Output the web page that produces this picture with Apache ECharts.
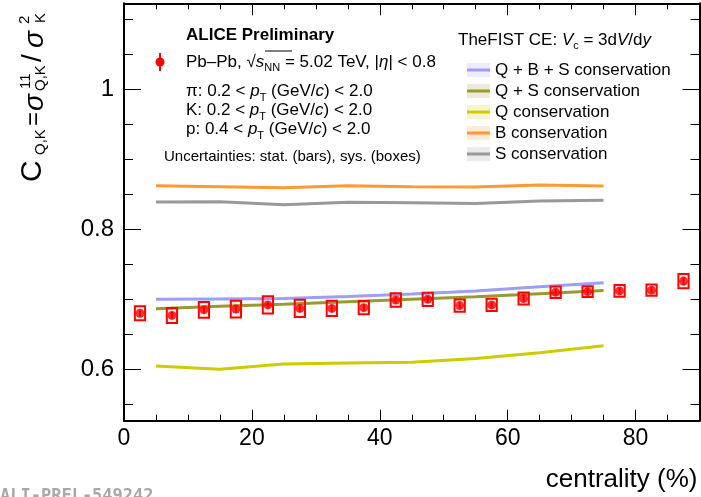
<!DOCTYPE html>
<html>
<head>
<meta charset="utf-8">
<script src="https://cdn.jsdelivr.net/npm/echarts@6/dist/echarts.min.js"></script>
<style>
  html, body { margin: 0; padding: 0; background: #fff; }
  #chart { width: 701px; height: 497px; }
</style>
</head>
<body>
<div id="chart"></div>
<script>
// ---- ALICE Preliminary data: C_{Q,K} vs centrality ----
const centrality = [2.5, 7.5, 12.5, 17.5, 22.5, 27.5, 32.5, 37.5, 42.5, 47.5, 52.5, 57.5, 62.5, 67.5, 72.5, 77.5, 82.5, 87.5];
const ckValues   = [0.680, 0.677, 0.685, 0.686, 0.692, 0.687, 0.687, 0.688, 0.699, 0.700, 0.691, 0.692, 0.701, 0.710, 0.711, 0.712, 0.713, 0.726];
const statErr    = [0.005, 0.005, 0.005, 0.005, 0.005, 0.005, 0.005, 0.005, 0.005, 0.005, 0.005, 0.005, 0.005, 0.005, 0.005, 0.005, 0.005, 0.006];
const sysErr     = [0.0100, 0.0107, 0.0112, 0.0119, 0.0124, 0.0124, 0.0110, 0.0095, 0.0095, 0.0095, 0.0088, 0.0086, 0.0086, 0.0083, 0.0076, 0.0083, 0.0081, 0.0102];

// ---- Thermal-FIST canonical ensemble, V_c = 3 dV/dy ----
const modelCentrality = [5, 15, 25, 35, 45, 55, 65, 75];
const qbsCons = [0.7000, 0.7005, 0.7010, 0.7040, 0.7075, 0.7120, 0.7180, 0.7235];
const qsCons  = [0.6866, 0.6900, 0.6930, 0.6965, 0.7000, 0.7035, 0.7080, 0.7125];
const qCons   = [0.6045, 0.6000, 0.6075, 0.6090, 0.6100, 0.6155, 0.6235, 0.6335];
const bCons   = [0.8623, 0.8610, 0.8595, 0.8623, 0.8610, 0.8605, 0.8635, 0.8620];
const sCons   = [0.8390, 0.8394, 0.8352, 0.8386, 0.8378, 0.8370, 0.8404, 0.8414];

const modelNames = ['Q + B + S conservation', 'Q + S conservation', 'Q conservation', 'B conservation', 'S conservation'];
const modelColors = ['#9e9ef5', '#999933', '#cccc00', '#ff9933', '#999999'];
const modelValues = [qbsCons, qsCons, qCons, bCons, sCons];

// ---- axis ticks ----
const xMajorTicks = [0, 20, 40, 60, 80];
const xMinorTicks = [5, 10, 15, 25, 30, 35, 45, 50, 55, 65, 70, 75, 85];
const yMajorTicks = [0.6, 0.8, 1.0];
const yMinorTicks = [0.55, 0.65, 0.7, 0.75, 0.85, 0.9, 0.95, 1.05, 1.1];

const X_MIN = 0, X_MAX = 90, Y_MIN = 0.5265, Y_MAX = 1.123;
const FONT = '"Liberation Sans", Arial, Helvetica, sans-serif';
const BOX_HALF = 0.8;

const chart = echarts.init(document.getElementById('chart'), null, { renderer: 'canvas' });

function xAxisDef(position, ticks, len, withLine, withLabel) {
  return {
    type: 'value', position: position, min: X_MIN, max: X_MAX,
    splitLine: { show: false },
    axisLine: { show: withLine, onZero: false, lineStyle: { color: '#000', width: 2 } },
    axisTick: { show: true, inside: true, length: len, customValues: ticks, lineStyle: { color: '#000', width: 1 } },
    axisLabel: withLabel ? { show: true, customValues: ticks, fontSize: 23, fontFamily: FONT, color: '#000', margin: 6 } : { show: false }
  };
}
function yAxisDef(position, ticks, len, withLine, withLabel) {
  return {
    type: 'value', position: position, min: Y_MIN, max: Y_MAX,
    splitLine: { show: false },
    axisLine: { show: withLine, onZero: false, lineStyle: { color: '#000', width: 2 } },
    axisTick: { show: true, inside: true, length: len, customValues: ticks, lineStyle: { color: '#000', width: 1 } },
    axisLabel: withLabel ? { show: true, customValues: ticks, fontSize: 24, fontFamily: FONT, color: '#000', margin: 10,
      formatter: v => (Math.abs(v - 1) < 1e-9 ? '1' : String(+v.toFixed(2))) } : { show: false }
  };
}

const xAxes = [
  Object.assign(xAxisDef('bottom', xMajorTicks, 11, true, true), {
    name: 'centrality (%)', nameLocation: 'end', nameGap: -2,
    nameTextStyle: { fontSize: 26, fontFamily: FONT, color: '#000', align: 'right', verticalAlign: 'top', padding: [46, 0, 0, 0] }
  }),
  xAxisDef('bottom', xMinorTicks, 6, false, false),
  xAxisDef('top', xMajorTicks, 12, true, false),
  xAxisDef('top', xMinorTicks, 6, false, false)
];
const yAxes = [
  yAxisDef('left', yMajorTicks, 17, true, true),
  yAxisDef('left', yMinorTicks, 9, false, false),
  yAxisDef('right', yMajorTicks, 17, true, false),
  yAxisDef('right', yMinorTicks, 9, false, false)
];

const series = [];
modelNames.forEach((name, i) => {
  series.push({
    name: name, type: 'line', xAxisIndex: 0, yAxisIndex: 0,
    data: modelCentrality.map((c, k) => [c, modelValues[i][k]]),
    showSymbol: false, symbol: 'none', silent: true, z: 2,
    lineStyle: { color: modelColors[i], width: 3 },
    itemStyle: { color: modelColors[i] }
  });
});

// systematic boxes
series.push({
  name: 'sys', type: 'custom', xAxisIndex: 0, yAxisIndex: 0, z: 4, silent: true,
  data: centrality.map((c, i) => [c, ckValues[i], sysErr[i]]),
  encode: { x: 0, y: 1 },
  renderItem: function (params, api) {
    const x = api.value(0), y = api.value(1), e = api.value(2);
    const p1 = api.coord([x - BOX_HALF, y + e]);
    const p2 = api.coord([x + BOX_HALF, y - e]);
    return {
      type: 'rect',
      shape: { x: p1[0], y: p1[1], width: p2[0] - p1[0], height: p2[1] - p1[1] },
      style: { fill: 'rgba(255,0,0,0.06)', stroke: '#ff0000', lineWidth: 2 }
    };
  }
});
// statistical error bars
series.push({
  name: 'stat', type: 'custom', xAxisIndex: 0, yAxisIndex: 0, z: 5, silent: true,
  data: centrality.map((c, i) => [c, ckValues[i], statErr[i]]),
  encode: { x: 0, y: 1 },
  renderItem: function (params, api) {
    const x = api.value(0), y = api.value(1), e = api.value(2);
    const a = api.coord([x, y + e]);
    const b = api.coord([x, y - e]);
    return {
      type: 'line',
      shape: { x1: a[0], y1: a[1], x2: b[0], y2: b[1] },
      style: { stroke: '#ff0000', lineWidth: 2 }
    };
  }
});
// data points
series.push({
  name: 'ALICE', type: 'scatter', xAxisIndex: 0, yAxisIndex: 0, z: 6, silent: true,
  data: centrality.map((c, i) => [c, ckValues[i]]),
  symbol: 'circle', symbolSize: 9,
  itemStyle: { color: '#ff0000' }
});

// legend band behind each model entry
const legendTop = 63, legendStep = 21;
const legendBands = modelColors.map((col, i) => ({
  type: 'rect', z: 1,
  shape: { x: 467, y: legendTop + i * legendStep, width: 23, height: 14 },
  style: { fill: col, opacity: 0.2 }
}));

const txt = (x, y, text, font, extra) => ({
  type: 'text', x: x, y: y, z: 10,
  style: Object.assign({ text: text, font: font, fill: '#000', textAlign: 'left', textVerticalAlign: 'middle' }, extra || {})
});

const sub = { fontSize: 11, fontFamily: FONT, padding: [12, 0, 0, 0] };
const subLow = { fontSize: 11, fontFamily: FONT, padding: [14, 0, 0, 0] };
const it = { fontSize: 17, fontFamily: FONT, fontStyle: 'italic' };
const base17 = { fontSize: 17, fontFamily: FONT };

// y-axis title: C_{Q,K} = σ^{11}_{Q,K} / σ^{2}_{K}, drawn reading bottom to top
const T = 30, TS = 28, S = 15;
const tt = (x, y, text, font) => ({ type: 'text', x: x, y: y, style: { text: text, font: font, fill: '#000', textVerticalAlign: 'middle' } });
const yTitle = {
  type: 'group', x: 44, y: 182, rotation: Math.PI / 2, z: 10,
  children: [
    tt(0,   -11, 'C',   `${T}px ${FONT}`),
    tt(27,  -3,  'Q,K', `${S}px ${FONT}`),
    tt(56,  -10, '=',   `24px ${FONT}`),
    tt(71,  -9,  'σ',   `italic ${TS}px ${FONT}`),
    tt(93,  -18, '11',  `${S}px ${FONT}`),
    tt(91,  -3,  'Q,K', `${S}px ${FONT}`),
    tt(120, -11, '/',   `${TS}px ${FONT}`),
    tt(134, -9,  'σ',   `italic ${TS}px ${FONT}`),
    tt(158, -19, '2',   `${S}px ${FONT}`),
    tt(159, -3,  'K',   `${S}px ${FONT}`)
  ]
};

const graphics = [].concat(legendBands, [
  yTitle,
  txt(186, 35, 'ALICE Preliminary', `bold 17px ${FONT}`),
  // data marker for the ALICE entry
  { type: 'line', z: 10, shape: { x1: 160, y1: 53, x2: 160, y2: 71 }, style: { stroke: '#ff0000', lineWidth: 2 } },
  { type: 'circle', z: 10, shape: { cx: 160, cy: 62, r: 4.5 }, style: { fill: '#ff0000' } },
  txt(186, 62, '{t|Pb–Pb, √}{i|s}{s|NN}{t| = 5.02 TeV, |}{i|η}{t|| < 0.8}', `17px ${FONT}`,
      { rich: { t: base17, i: it, s: sub } }),
  { type: 'line', z: 10, shape: { x1: 265, y1: 51, x2: 292, y2: 51 }, style: { stroke: '#000', lineWidth: 1 } },
  txt(186, 91, '{t|π: 0.2 < }{i|p}{s|T}{t| (GeV/}{i|c}{t|) < 2.0}', `17px ${FONT}`, { rich: { t: base17, i: it, s: subLow } }),
  txt(186, 110, '{t|K: 0.2 < }{i|p}{s|T}{t| (GeV/}{i|c}{t|) < 2.0}', `17px ${FONT}`, { rich: { t: base17, i: it, s: subLow } }),
  txt(186, 129, '{t|p: 0.4 < }{i|p}{s|T}{t| (GeV/}{i|c}{t|) < 2.0}', `17px ${FONT}`, { rich: { t: base17, i: it, s: subLow } }),
  txt(164, 157, 'Uncertainties: stat. (bars), sys. (boxes)', `15px ${FONT}`),
  txt(458, 40, '{t|TheFIST CE: }{i|V}{s|c}{t| = 3d}{i|V}{t|/d}{i|y}', `17px ${FONT}`, { rich: { t: base17, i: it, s: sub } }),
  txt(0, 497, 'ALI-PREL-549242', `bold 17px "DejaVu Sans Mono", monospace`, { fill: '#a8a8a8' })
]);

chart.setOption({
  animation: false,
  backgroundColor: '#fff',
  grid: { left: 124, right: 1.5, top: 3.3, bottom: 76.3, containLabel: false },
  xAxis: xAxes,
  yAxis: yAxes,
  legend: {
    data: modelNames,
    orient: 'vertical', left: 467, top: 61.5, z: 5, padding: 0,
    icon: 'rect', itemWidth: 23, itemHeight: 3, itemGap: 4,
    textStyle: { fontSize: 17, fontFamily: FONT, color: '#000' },
    selectedMode: false
  },
  graphic: graphics,
  series: series
});
</script>
</body>
</html>
